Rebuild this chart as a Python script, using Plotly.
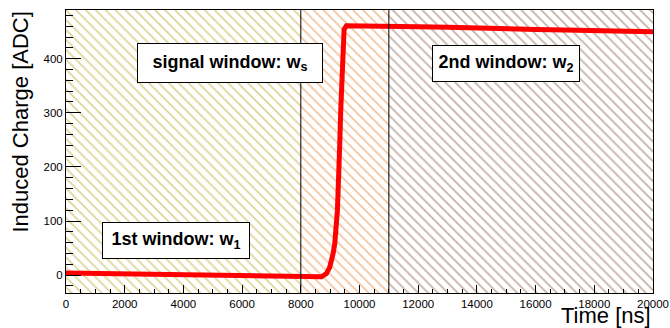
import plotly.graph_objects as go

# ---- data ----
time_ns = [0, 1000, 2000, 3000, 4000, 5000, 6000, 7000, 8000, 8400, 8705,
           8874, 8987, 9100, 9157, 9248, 9305, 9328, 9362, 9396, 9430, 9475,
           9555, 10000, 11000, 12000, 13000, 14000, 15000, 16000, 17000,
           18000, 19000, 20000]
charge_adc = [4, 3, 3, 2, 1, 0, -1, -1, -2, -3, -3,
              3, 15, 40, 58, 120, 182, 244, 306, 367, 429, 454,
              461, 461, 460, 459, 458, 456, 455, 454, 453, 452, 451, 450]

window_edges = [0, 8000, 11000, 20000]
window_colors = ["rgb(190,172,55)", "rgb(225,140,65)", "rgb(140,100,85)"]
window_labels = ["1st window: w<sub>1</sub>", "signal window: w<sub>s</sub>",
                 "2nd window: w<sub>2</sub>"]
y_range = [-33, 490]
x_range = [0, 20000]

W, H = 670, 328
L, R, T, B = 66, 16.5, 10, 35.3
pw, ph = W - L - R, H - T - B
FONT = "Arial, 'Liberation Sans', Helvetica, sans-serif"


def px_x(p):
    return (p - L) / pw


def px_y(p):
    return (H - B - p) / ph


fig = go.Figure()

# hatched windows
for i in range(3):
    x0, x1 = window_edges[i], window_edges[i + 1]
    fig.add_trace(go.Scatter(
        x=[x0, x1, x1, x0, x0],
        y=[y_range[0], y_range[0], y_range[1], y_range[1], y_range[0]],
        fill="toself", mode="none", hoverinfo="skip", showlegend=False,
        fillcolor="rgba(0,0,0,0)",
        fillpattern=dict(shape="\\", fgcolor=window_colors[i], bgcolor="white",
                         size=7, solidity=0.25),
    ))

# window borders
for e in window_edges[1:3]:
    fig.add_shape(type="line", xref="x", yref="paper", x0=e, x1=e, y0=0, y1=1,
                  line=dict(color="black", width=1), layer="above")

# signal
fig.add_trace(go.Scatter(x=time_ns, y=charge_adc, mode="lines",
                         line=dict(color="rgb(255,0,0)", width=5),
                         showlegend=False))

# label boxes (centre px, width, height)
boxes = [(176, 240.5, 146, 35), (230.2, 62.8, 184, 38), (506.7, 63, 146, 35)]
for (cx, cy, bw, bh), txt in zip(boxes, window_labels):
    fig.add_annotation(
        text="<b>" + txt + "</b>", xref="paper", yref="paper",
        x=px_x(cx), y=px_y(cy), xanchor="center", yanchor="middle",
        showarrow=False, width=bw, height=bh, borderpad=0,
        bgcolor="white", bordercolor="black", borderwidth=1,
        font=dict(family=FONT, size=18, color="black"),
    )

# axis titles
fig.add_annotation(text="Time [ns]", xref="paper", yref="paper",
                   x=1, y=px_y(315.5), xanchor="right", yanchor="middle",
                   showarrow=False,
                   font=dict(family=FONT, size=22, color="black"))
fig.add_annotation(text="Induced Charge [ADC]", xref="paper", yref="paper",
                   x=px_x(20), y=1, xanchor="center", yanchor="top",
                   textangle=-90, showarrow=False,
                   font=dict(family=FONT, size=22, color="black"))

axis_font = dict(family=FONT, size=11.5, color="black")
fig.update_xaxes(range=x_range, dtick=2000, tick0=0, ticks="inside", ticklen=8,
                 tickformat="d", tickcolor="black", tickwidth=1, automargin=False,
                 minor=dict(dtick=500, ticks="inside", ticklen=4, tickcolor="black"),
                 showline=True, linecolor="black", linewidth=1, mirror=True,
                 showgrid=False, zeroline=False, tickfont=axis_font)
fig.update_yaxes(range=y_range, dtick=100, tick0=0, ticks="inside", ticklen=15,
                 tickformat="d", tickcolor="black", tickwidth=1, automargin=False,
                 minor=dict(dtick=20, ticks="inside", ticklen=7, tickcolor="black"),
                 showline=True, linecolor="black", linewidth=1, mirror=True,
                 showgrid=False, zeroline=False, tickfont=axis_font)

fig.update_layout(width=W, height=H, margin=dict(l=L, r=R, t=T, b=B),
                  paper_bgcolor="white", plot_bgcolor="white")

fig.write_html("out.html")
